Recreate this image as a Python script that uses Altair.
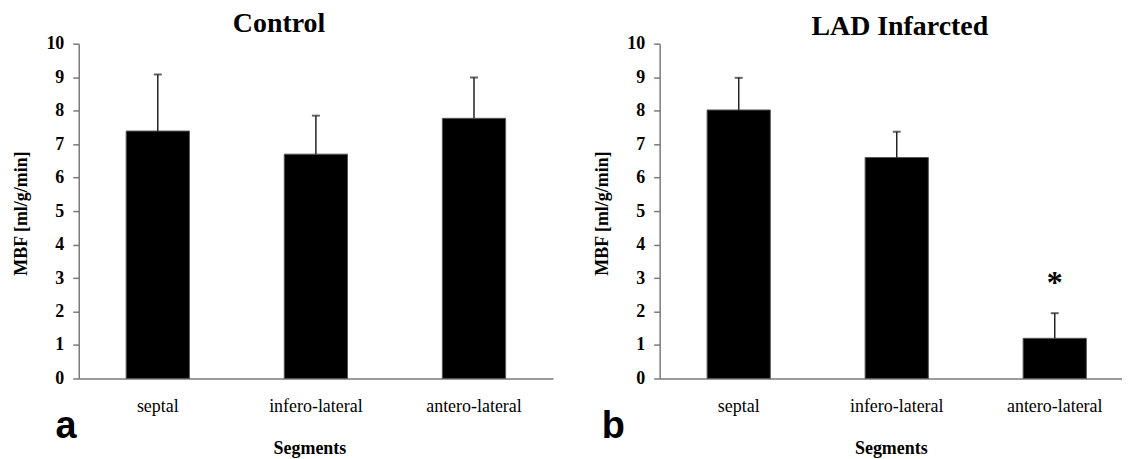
import altair as alt
import pandas as pd

segments = ["septal", "infero-lateral", "antero-lateral"]

control_mbf = [7.39, 6.70, 7.77]
control_upper = [9.08, 7.85, 8.99]
control_marks = ["", "", ""]

lad_mbf = [8.02, 6.60, 1.20]
lad_upper = [8.98, 7.37, 1.95]
lad_marks = ["", "", "*"]

y_ticks = [0, 1, 2, 3, 4, 5, 6, 7, 8, 9, 10]

SERIF = "Liberation Serif"
SANS = "Liberation Sans"
AXIS_GRAY = "#7a7a7a"


def panel(mbf, upper, marks, title, title_dx, letter, letter_x, width,
          pad_outer, align, seg_title_x):
    df = pd.DataFrame({"segment": segments, "mbf": mbf, "upper": upper, "mark": marks})
    xs = alt.Scale(paddingInner=0.6, paddingOuter=pad_outer, align=align)
    x_axis = alt.Axis(
        title="Segments", labelAngle=0, ticks=False,
        labelFont=SERIF, labelFontSize=18, labelFontWeight="normal",
        labelColor="black", labelPadding=19,
        titleFont=SERIF, titleFontSize=18, titleFontWeight="bold",
        titleColor="black", titlePadding=24, titleX=seg_title_x,
        domainColor=AXIS_GRAY, domainWidth=1.5,
    )
    ys = alt.Scale(domain=[0, 10], nice=False)
    y_axis = alt.Axis(
        values=y_ticks, tickCount=len(y_ticks) + 1, labelOverlap=False,
        title="MBF [ml/g/min]", grid=False,
        labelFont=SERIF, labelFontSize=18, labelFontWeight="bold",
        labelColor="black", labelPadding=9, tickSize=6,
        tickColor=AXIS_GRAY, tickWidth=1.5,
        domainColor=AXIS_GRAY, domainWidth=1.5,
        titleFont=SERIF, titleFontSize=18, titleFontWeight="bold",
        titleColor="black", titleX=-57, titleY=170,
        titleAlign="center", titleBaseline="middle",
    )

    def X():
        return alt.X("segment:N", sort=segments, scale=xs, axis=x_axis)

    def Y(field):
        return alt.Y(field, scale=ys, axis=y_axis)

    base = alt.Chart(df)
    bars = base.mark_bar(color="black", stroke="#555555", strokeWidth=1).encode(
        x=X(), y=Y("mbf:Q"))
    err = base.mark_rule(color="#222222", strokeWidth=1.5).encode(
        x=X(), y=Y("mbf:Q"), y2="upper:Q")
    cap = base.mark_tick(color="#222222", size=8, thickness=2).encode(
        x=X(), y=Y("upper:Q"))
    star = base.mark_text(font=SERIF, fontSize=32, fontWeight="bold",
                          baseline="alphabetic", dy=-20, color="black").encode(
        x=X(), y=Y("upper:Q"), text="mark:N")
    lab = alt.Chart(pd.DataFrame({"t": [letter]})).mark_text(
        font=SANS, fontSize=38, fontWeight="bold", align="center",
        baseline="alphabetic", color="black").encode(
        x=alt.value(letter_x), y=alt.value(396), text="t:N")
    return alt.layer(bars, err, cap, star, lab).properties(
        width=width, height=336,
        title=alt.Title(title, font=SERIF, fontSize=28, fontWeight="bold",
                        color="black", frame="group", anchor="middle",
                        dx=title_dx, offset=-9),
    )


a = panel(control_mbf, control_upper, control_marks, "Control", -37, "a", -12.7,
          476, 0.3, 0.5, 231.5)
b = panel(lad_mbf, lad_upper, lad_marks, "LAD Infarcted", 9, "b", -46.6,
          464, 0.263, 0.571, 232)

chart = alt.hconcat(a, b, spacing=41).properties(
    padding={"left": 5, "top": 0, "right": 0, "bottom": 0},
    background="white",
).configure_view(stroke=None)

chart.save("out.html", embed_options={"renderer": "svg", "actions": False})
